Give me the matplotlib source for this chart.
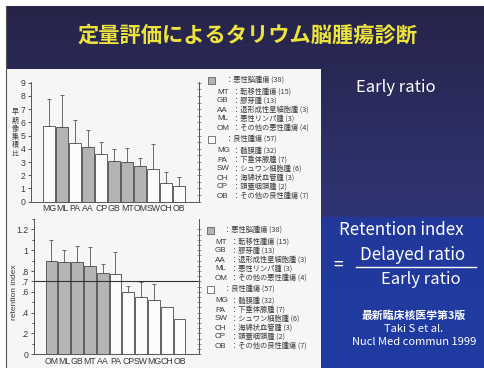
import matplotlib
matplotlib.use('Agg')
import matplotlib.pyplot as plt
from matplotlib.patches import Rectangle
import matplotlib.colors as mcolors
import numpy as np

plt.rcParams['font.family'] = ['Noto Sans CJK JP', 'DejaVu Sans']

# data
title = '定量評価によるタリウム脳腫瘍診断'

early_cats = ['MG', 'ML', 'PA', 'AA', 'CP', 'GB', 'MT', 'OM', 'SW', 'CH', 'OB']
early_vals = [5.7, 5.65, 4.45, 4.1, 3.6, 3.1, 3.0, 2.7, 2.45, 1.45, 1.2]
early_err_top = [7.75, 8.05, 6.2, 5.4, 4.5, 4.0, 4.05, 3.3, 4.4, 2.25, 1.85]

ret_cats = ['OM', 'ML', 'GB', 'MT', 'AA', 'PA', 'CP', 'SW', 'MG', 'CH', 'OB']
ret_vals = [0.90, 0.89, 0.885, 0.85, 0.78, 0.77, 0.595, 0.547, 0.52, 0.455, 0.34]
ret_err_top = [1.10, 1.00, 1.045, 1.035, 0.865, 0.98, 0.66, 0.69, 0.675, np.nan, np.nan]
ret_cutoff = 0.7
ret_ticks = [0, 0.2, 0.4, 0.6, 0.7, 0.8, 1.0, 1.2]
ret_ticklabels = ['0', '.2', '.4', '.6', '.7', '.8', '1', '1.2']

malignant = ['MT', 'GB', 'AA', 'ML', 'OM']
malignant_header = '：悪性脳腫瘍 (38)'
malignant_names = ['転移性腫瘍 (15)', '膠芽腫 (13)', '退形成性星細胞腫 (3)',
                   '悪性リンパ腫 (3)', 'その他の悪性腫瘍 (4)']
benign = ['MG', 'PA', 'SW', 'CH', 'CP', 'OB']
benign_header = '：良性腫瘍 (57)'
benign_names = ['髄膜腫 (32)', '下垂体腺腫 (7)', 'シュワン細胞腫 (6)',
                '海綿状血管腫 (3)', '頭蓋咽頭腫 (2)', 'その他の良性腫瘍 (7)']

W, H = 484, 368
GRAY = '#b4b4b2'
WHITE = '#fbfbf9'
EDGE = '#4a4a4a'
INK = '#3a3a3a'
PANEL = '#f6f6f4'

fig = plt.figure(figsize=(W / 100, H / 100), dpi=100)
fig.patch.set_facecolor('white')

# background layer in pixel coordinates
bg = fig.add_axes([0, 0, 1, 1])
bg.set_xlim(0, W)
bg.set_ylim(H, 0)
bg.axis('off')

def vgrad(c1, c2, n=256):
    a = np.array(mcolors.to_rgb(c1))
    b = np.array(mcolors.to_rgb(c2))
    t = np.linspace(0, 1, n)[:, None]
    return (a * (1 - t) + b * t)[:, None, :]

bg.imshow(vgrad('#272449', '#2f3574'), extent=[6, W, 217, 6], aspect='auto', zorder=0)
bg.imshow(vgrad('#2f3574', '#2b3d92'), extent=[6, W, H, 217], aspect='auto', zorder=0)
bg.imshow(vgrad('#22389a', '#1f3ca4'), extent=[320, W, H, 217], aspect='auto', zorder=1)
bg.add_patch(Rectangle((7, 69), 314, H - 69, facecolor=PANEL, edgecolor='none', zorder=2))
bg.plot([6, 6], [6, H], color='#555555', lw=0.8, zorder=3)

bg.text(248, 35, title, color='#ece43c', fontsize=15.3, ha='center', va='center',
        fontweight='bold', zorder=4)

# right-hand text
bg.text(396, 88, 'Early ratio', color='white', fontsize=12, ha='center', va='center', zorder=4)
bg.text(401.5, 230, 'Retention index', color='white', fontsize=12.2, ha='center', va='center', zorder=4)
bg.text(338, 266, '=', color='white', fontsize=12.5, ha='center', va='center', zorder=4)
bg.text(412.5, 255, 'Delayed ratio', color='white', fontsize=12.2, ha='center', va='center', zorder=4)
bg.plot([356, 476], [267, 267], color='white', lw=1.0, zorder=4)
bg.text(420.5, 279, 'Early ratio', color='white', fontsize=12, ha='center', va='center', zorder=4)
bg.text(413.7, 316, '最新臨床核医学第3版', color='white', fontsize=7.8, ha='center', va='center',
        fontweight='bold', zorder=4)
bg.text(413.7, 329, 'Taki S et al.', color='white', fontsize=8, ha='center', va='center', zorder=4)
bg.text(413.7, 342, 'Nucl Med commun 1999', color='white', fontsize=8, ha='center', va='center', zorder=4)


def draw_key(x_sq, x_ab, x_col, y0):
    rows = [(GRAY, malignant_header, malignant, malignant_names, y0),
            (WHITE, benign_header, benign, benign_names, y0 + 59)]
    for fc, header, abbrs, names, yh in rows:
        bg.add_patch(Rectangle((x_sq, yh - 3), 6.5, 6.5, facecolor=fc, edgecolor=EDGE,
                               lw=0.5, zorder=4))
        bg.text(x_col - 10, yh, header, fontsize=5.2, color=INK, va='center', zorder=4)
        for i, (ab, nm) in enumerate(zip(abbrs, names)):
            y = yh + 12 + 9 * i
            bg.text(x_ab, y, ab, fontsize=5.8, color=INK, va='center',
                    family='Liberation Sans', zorder=4)
            bg.text(x_col - 3, y, '：' + nm, fontsize=5.2, color=INK, va='center', zorder=4)


draw_key(208, 217, 236, 80)
draw_key(207, 215, 234, 230)


def bar_chart(rect, cats, vals, err_top, xlim, ylim):
    ax = fig.add_axes(rect)
    ax.set_facecolor('none')
    x = np.arange(len(cats))
    colors = [GRAY if c in malignant else WHITE for c in cats]
    ax.bar(x, vals, width=0.92, color=colors, edgecolor=EDGE, linewidth=0.6, zorder=2)
    up = np.array(err_top, dtype=float) - np.array(vals)
    ok = ~np.isnan(up)
    ax.errorbar(x[ok], np.array(vals)[ok], yerr=[np.zeros(ok.sum()), up[ok]], fmt='none',
                ecolor='#555555', elinewidth=0.6, capsize=1.5, capthick=0.6, zorder=1)
    ax.set_xlim(*xlim)
    ax.set_ylim(*ylim)
    ax.set_xticks(x)
    ax.set_xticklabels(cats, family='Liberation Sans', fontsize=6.3, color=INK)
    ax.tick_params(axis='x', length=0, pad=2)
    ax.tick_params(axis='y', labelsize=6.3, colors=INK, length=2.5, width=0.6, pad=1.5)
    ax.spines['top'].set_visible(False)
    for s in ['left', 'bottom', 'right']:
        ax.spines[s].set_linewidth(0.7)
        ax.spines[s].set_color('#555555')
    return ax


# top chart: early ratio
ax1 = bar_chart([31 / W, 1 - 201.7 / H, 168 / W, 119.7 / H],
                early_cats, early_vals, early_err_top, (-1.41, 11.52), (0, 9.05))
ax1.set_yticks(range(10))
for lab in ax1.get_yticklabels():
    lab.set_family('Liberation Sans')
tw1 = ax1.twinx()
tw1.set_ylim(ax1.get_ylim())
tw1.set_yticks(np.arange(0, 9.01, 0.5))
tw1.tick_params(axis='y', direction='inout', length=3, width=0.5, labelright=False, colors='#666666')
for s in ['top', 'left', 'bottom']:
    tw1.spines[s].set_visible(False)
tw1.spines['right'].set_linewidth(0.7)
tw1.spines['right'].set_color('#555555')
bg.text(15, 133, '\n'.join('早期像集積比'), fontsize=5.0, color=INK, ha='center', va='center',
        linespacing=1.05, zorder=4)

# bottom chart: retention index
ax2 = bar_chart([34.3 / W, 1 - 354.3 / H, 164.7 / W, 135.3 / H],
                ret_cats, ret_vals, ret_err_top, (-1.34, 11.52), (0, 1.3))
ax2.set_yticks(ret_ticks)
ax2.set_yticklabels(ret_ticklabels, family='Liberation Sans')
ax2.set_yticks(np.arange(0, 1.31, 0.1), minor=True)
ax2.tick_params(axis='y', which='minor', length=1.5, width=0.5)
ax2.axhline(ret_cutoff, color='#333333', lw=0.8, zorder=3)
ax2.set_ylabel('retention index', family='Liberation Sans', fontsize=6, color=INK)
ax2.yaxis.set_label_coords(-0.10, 0.46)
tw2 = ax2.twinx()
tw2.set_ylim(ax2.get_ylim())
tw2.set_yticks(np.arange(0, 1.21, 0.05))
tw2.tick_params(axis='y', direction='inout', length=3, width=0.5, labelright=False, colors='#666666')
for s in ['top', 'left', 'bottom']:
    tw2.spines[s].set_visible(False)
tw2.spines['right'].set_bounds(0, 1.2)
tw2.spines['right'].set_linewidth(0.7)
tw2.spines['right'].set_color('#555555')

fig.savefig('out.png', dpi=100)
